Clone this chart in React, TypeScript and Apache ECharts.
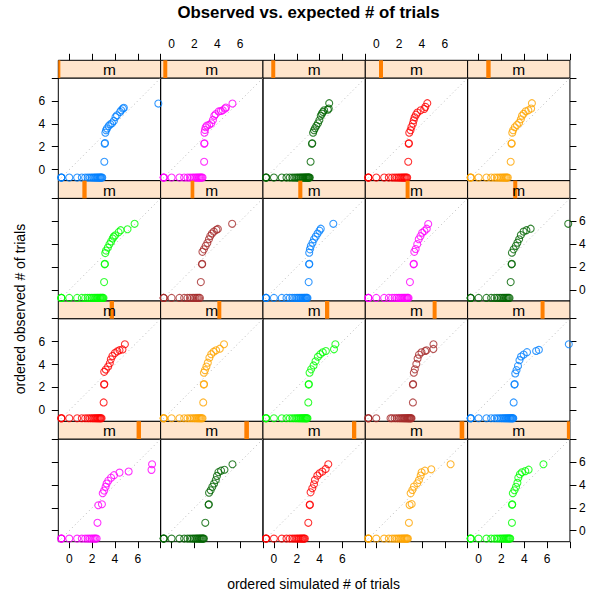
import React, { useEffect, useRef } from 'react';
import * as echarts from 'echarts';

// ---------- data ----------
const TITLE = 'Observed vs. expected # of trials';
const X_TITLE = 'ordered simulated # of trials';
const Y_TITLE = 'ordered observed # of trials';
const STRIP_LABEL = 'm';

const AXIS_MIN = -0.96;
const AXIS_MAX = 8;
const TICK_VALUES = [0, 2, 4, 6, 8];
const TICK_LABELS = [0, 2, 4, 6];
const REF_LINE = [-1, 8.2];
const ZERO_OBS = -0.69;

// shingle level intervals for m (fraction of range), panels in reading order
const STRIP_LO = [0, 0.026, 0.081, 0.134, 0.182, 0.235, 0.293, 0.345, 0.394, 0.446, 0.502, 0.554, 0.606, 0.658, 0.713, 0.765, 0.818, 0.87, 0.922, 0.97];
const STRIP_HI = [0.02, 0.065, 0.12, 0.173, 0.225, 0.277, 0.329, 0.385, 0.433, 0.485, 0.544, 0.593, 0.648, 0.697, 0.752, 0.808, 0.863, 0.912, 0.967, 1.0];

// simulated quantiles paired with observed zeros (y = ZERO_OBS)
const BOTTOM_X = [
  [-0.69, -0.69, -0.69, 0, 0.69, 1.1, 1.39, 1.61, 1.79, 1.95, 2.08, 2.2, 2.3, 2.4, 2.48, 2.56, 2.64, 2.71, 2.77, 2.83, 2.89],
  [-0.69, -0.69, -0.69, 0, 0.69, 1.1, 1.39, 1.61, 1.79, 1.95, 2.08, 2.2, 2.3, 2.4, 2.48, 2.56, 2.64, 2.71],
  [-0.69, -0.69, -0.69, 0, 0.69, 1.1, 1.39, 1.61, 1.79, 1.95, 2.08, 2.2, 2.3, 2.4, 2.48, 2.56, 2.64, 2.71, 2.77, 2.83, 2.89, 2.94, 3.0, 3.04, 3.09, 3.14],
  [-0.69, -0.69, -0.69, 0, 0.69, 1.1, 1.39, 1.61, 1.79, 1.95, 2.08, 2.2, 2.3, 2.4, 2.48, 2.56, 2.64, 2.71],
  [-0.69, -0.69, -0.69, 0, 0.69, 1.1, 1.39, 1.61, 1.79, 1.95, 2.08, 2.2, 2.3, 2.4, 2.48, 2.56],
  [-0.69, -0.69, -0.69, 0, 0.69, 1.1, 1.39, 1.61, 1.79, 1.95, 2.08, 2.2, 2.3, 2.4, 2.48, 2.56, 2.64, 2.71, 2.77, 2.83, 2.89, 2.94, 3.0],
  [-0.69, -0.69, -0.69, 0, 0.69, 1.1, 1.39, 1.61, 1.79, 1.95, 2.08, 2.2, 2.3, 2.4, 2.48],
  [-0.69, -0.69, -0.69, 0, 0.69, 1.1, 1.39, 1.61, 1.79, 1.95, 2.08, 2.2, 2.3, 2.4, 2.48, 2.56, 2.64, 2.71, 2.77, 2.83, 2.89, 2.94],
  [-0.69, -0.69, -0.69, 0, 0.69, 1.1, 1.39, 1.61, 1.79, 1.95, 2.08, 2.2, 2.3, 2.4, 2.48, 2.56, 2.64, 2.71, 2.77, 2.83],
  [-0.69, -0.69, -0.69, 0, 0.69, 1.1, 1.39, 1.61, 1.79, 1.95, 2.08, 2.2, 2.3, 2.4, 2.48, 2.56, 2.64, 2.71],
  [-0.69, -0.69, -0.69, 0, 0.69, 1.1, 1.39, 1.61, 1.79, 1.95, 2.08, 2.2, 2.3, 2.4, 2.48, 2.56, 2.64, 2.71, 2.77, 2.83],
  [-0.69, -0.69, -0.69, 0, 0.69, 1.1, 1.39, 1.61, 1.79, 1.95, 2.08, 2.2, 2.3, 2.4, 2.48, 2.56, 2.64, 2.71],
  [-0.69, -0.69, -0.69, 0, 0.69, 1.1, 1.39, 1.61, 1.79, 1.95, 2.08, 2.2, 2.3, 2.4, 2.48, 2.56, 2.64, 2.71, 2.77, 2.83, 2.89, 2.94],
  [-0.69, -0.69, -0.69, 0, 1.25, 1.39, 1.61, 1.79, 1.95, 2.08, 2.2, 2.3, 2.4, 2.48, 2.56, 2.64, 2.71, 2.77, 2.83, 2.89, 2.94, 3.0, 3.04, 3.09],
  [-0.69, -0.69, -0.69, 0, 0.69, 1.1, 1.39, 1.61, 1.79, 1.95, 2.08, 2.2, 2.3, 2.4, 2.48, 2.56, 2.64, 2.71, 2.77, 2.83, 2.89, 2.94, 3.0, 3.04],
  [-0.69, -0.69, -0.69, 0, 0.69, 1.1, 1.39, 1.61, 1.79, 1.95, 2.08, 2.2, 2.3, 2.4],
  [-0.69, -0.69, -0.69, 0, 0.69, 1.1, 1.39, 1.61, 1.79, 1.95, 2.08, 2.2, 2.3, 2.4, 2.48, 2.56, 2.64, 2.71, 2.77, 2.83],
  [-0.69, -0.69, -0.69, 0, 0.69, 1.1, 1.39, 1.61, 1.79, 1.95, 2.08, 2.2, 2.3, 2.4, 2.48, 2.56, 2.64, 2.71],
  [-0.69, -0.69, -0.69, 0, 0.69, 1.1, 1.39, 1.61, 1.79, 1.95, 2.08, 2.2, 2.3, 2.4, 2.48, 2.56, 2.64, 2.71, 2.77],
  [-0.69, -0.69, -0.69, 0, 0.69, 1.1, 1.39, 1.61, 1.79, 1.95, 2.08, 2.2, 2.3, 2.4, 2.48, 2.56, 2.64, 2.71, 2.77],
];

// remaining (simulated, observed) quantile pairs
const UPPER_POINTS = [
  [[3.07, 0.69], [3.1, 2.27], [3.13, 2.32], [3.16, 3.23], [3.22, 3.44], [3.3, 3.6], [3.45, 3.8], [3.6, 3.96], [3.75, 4.05], [3.9, 4.25], [4.05, 4.6], [4.18, 4.75], [4.45, 5.04], [4.55, 5.18], [4.7, 5.33], [4.78, 5.4], [7.8, 5.77]],
  [[2.85, 0.69], [2.86, 2.27], [2.88, 2.3], [2.88, 3.23], [2.92, 3.47], [2.98, 3.7], [3.1, 3.85], [3.3, 3.92], [3.48, 4.05], [3.62, 4.34], [3.74, 4.7], [3.85, 4.84], [4.12, 5.08], [4.32, 5.12], [4.48, 5.18], [4.68, 5.33], [4.76, 5.42], [5.33, 5.77]],
  [[3.21, 0.69], [3.33, 2.27], [3.36, 2.3], [3.43, 3.23], [3.51, 3.44], [3.6, 3.62], [3.72, 3.83], [3.86, 4.05], [3.98, 4.31], [4.1, 4.7], [4.2, 4.89], [4.3, 5.04], [4.4, 5.18], [4.72, 5.24], [4.8, 5.33], [4.84, 5.8]],
  [[2.8, 0.69], [2.84, 2.27], [2.86, 2.3], [2.89, 3.23], [3.0, 3.44], [3.08, 3.73], [3.21, 4.02], [3.28, 4.31], [3.36, 4.57], [3.48, 4.8], [3.6, 4.98], [3.89, 5.18], [4.2, 5.3], [4.3, 5.48], [4.47, 5.8]],
  [[2.81, 0.69], [2.88, 2.27], [2.9, 2.3], [2.95, 3.23], [3.02, 3.44], [3.17, 3.7], [3.36, 3.9], [3.55, 4.1], [3.7, 4.4], [3.8, 4.7], [3.94, 4.87], [4.13, 5.1], [4.36, 5.18], [4.6, 5.33], [4.67, 5.8]],
  [[3.05, 0.69], [3.1, 2.24], [3.12, 2.28], [3.15, 3.22], [3.22, 3.44], [3.38, 3.7], [3.52, 4.0], [3.66, 4.24], [3.8, 4.5], [3.9, 4.66], [4.03, 4.77], [4.32, 5.05], [4.5, 5.22], [5.1, 5.3], [5.72, 5.78]],
  [[2.56, 0.69], [2.66, 2.24], [2.68, 2.28], [2.7, 3.33], [2.83, 3.55], [2.98, 3.85], [3.13, 4.1], [3.27, 4.43], [3.39, 4.72], [3.53, 4.93], [3.7, 5.1], [3.93, 5.25], [4.05, 5.33], [5.3, 5.78]],
  [[3.04, 0.69], [3.08, 2.24], [3.1, 2.28], [3.09, 3.26], [3.15, 3.55], [3.23, 3.83], [3.38, 4.13], [3.51, 4.43], [3.66, 4.66], [3.82, 4.93], [3.99, 5.18], [4.1, 5.35], [5.2, 5.78]],
  [[2.95, 0.69], [3.27, 2.24], [3.29, 2.28], [3.33, 3.33], [3.45, 3.58], [3.59, 4.0], [3.72, 4.43], [3.87, 4.7], [4.02, 5.0], [4.22, 5.15], [4.42, 5.35], [4.55, 5.76]],
  [[2.81, 0.69], [2.89, 2.24], [2.91, 2.28], [2.92, 3.26], [3.07, 3.55], [3.26, 3.85], [3.4, 4.13], [3.55, 4.43], [3.7, 4.8], [3.94, 5.1], [4.19, 5.22], [4.56, 5.35], [7.85, 5.78]],
  [[3.01, 0.69], [3.05, 2.25], [3.07, 2.29], [3.06, 3.36], [3.2, 3.56], [3.4, 3.83], [3.55, 4.12], [3.64, 4.45], [3.78, 4.75], [4.0, 5.0], [4.21, 5.15], [4.4, 5.25], [4.66, 5.32], [4.87, 5.77]],
  [[2.77, 0.69], [2.82, 2.25], [2.84, 2.29], [2.83, 3.29], [2.92, 3.51], [3.05, 3.83], [3.17, 4.16], [3.31, 4.6], [3.47, 4.9], [3.68, 5.12], [3.9, 5.24], [4.22, 5.38], [4.59, 5.77]],
  [[3.01, 0.69], [3.04, 2.25], [3.06, 2.29], [3.12, 3.29], [3.26, 3.58], [3.47, 3.92], [3.64, 4.28], [3.85, 4.68], [4.06, 4.9], [4.28, 5.07], [4.55, 5.18], [5.26, 5.33], [5.38, 5.77]],
  [[3.21, 0.69], [3.21, 2.25], [3.23, 2.29], [3.29, 3.29], [3.38, 3.58], [3.51, 4.05], [3.62, 4.53], [3.74, 4.86], [3.96, 5.07], [4.28, 5.18], [4.4, 5.24], [5.0, 5.36], [5.01, 5.77]],
  [[3.07, 0.69], [3.14, 2.25], [3.16, 2.29], [3.21, 3.22], [3.32, 3.51], [3.45, 3.88], [3.58, 4.38], [3.72, 4.7], [3.95, 4.87], [4.24, 5.08], [5.04, 5.18], [5.28, 5.28], [7.9, 5.77]],
  [[2.47, 0.69], [2.54, 2.22], [2.86, 2.31], [2.93, 3.27], [3.05, 3.5], [3.18, 3.83], [3.27, 4.12], [3.42, 4.37], [3.66, 4.63], [3.92, 4.85], [4.4, 5.07], [5.2, 5.17], [7.2, 5.31], [7.25, 5.8]],
  [[2.95, 0.69], [3.24, 2.27], [3.26, 2.3], [3.28, 3.32], [3.42, 3.53], [3.57, 3.83], [3.72, 4.12], [3.87, 4.42], [3.97, 4.78], [4.1, 5.11], [4.33, 5.24], [4.63, 5.32], [5.33, 5.8]],
  [[3.01, 0.69], [3.13, 2.24], [3.15, 2.28], [3.21, 3.35], [3.36, 3.7], [3.51, 4.05], [3.59, 4.43], [3.8, 4.81], [4.0, 5.01], [4.24, 5.16], [4.53, 5.39], [4.76, 5.8]],
  [[2.86, 0.69], [2.92, 2.24], [3.1, 2.33], [3.01, 3.26], [3.16, 3.55], [3.3, 3.85], [3.59, 4.14], [3.74, 4.43], [3.89, 4.81], [3.97, 5.1], [4.26, 5.24], [4.82, 5.36], [6.51, 5.8]],
  [[2.92, 0.69], [2.93, 2.27], [2.95, 2.3], [3.0, 3.27], [3.14, 3.53], [3.28, 3.83], [3.4, 4.18], [3.48, 4.63], [3.62, 4.92], [3.8, 5.1], [4.09, 5.2], [4.38, 5.33], [5.68, 5.8]],
];

// ---------- style / layout ----------
const PANEL_COLORS = ['#0080ff', '#ff00ff', '#006400', '#ff0000', '#ffa500', '#00ff00', '#a52a2a'];
const FONT = '"Liberation Sans", Arial, Helvetica, sans-serif';
const NCOL = 5;
const NROW = 4;
const LEFT0 = 58.3;
const COL_W = 102.33;
const TOP0 = 60.3;
const ROW_H = 120.35;
const STRIP_H = 17.7;
const PANEL_H = ROW_H - STRIP_H;
const TICK_LEN = 6.5;
const LABEL_SIZE = 12;

function buildOption() {
  const grid: any[] = [];
  const xAxis: any[] = [];
  const yAxis: any[] = [];
  const series: any[] = [];
  const n = NCOL * NROW;

  const tickStyle = { lineStyle: { color: '#000', width: 1 } };
  const labelBase = { fontSize: LABEL_SIZE, color: '#000', fontFamily: FONT };
  const noLine = { show: false, onZero: false };
  const hiddenVal = (gridIndex: number) => ({
    type: 'value', gridIndex, min: AXIS_MIN, max: AXIS_MAX, show: false,
    axisLine: noLine, splitLine: { show: false },
  });

  // panel grids 0..19
  for (let i = 0; i < n; i++) {
    const r = Math.floor(i / NCOL);
    const c = i % NCOL;
    grid.push({
      left: LEFT0 + c * COL_W, top: TOP0 + r * ROW_H + STRIP_H, width: COL_W, height: PANEL_H,
      show: true, borderColor: '#000', borderWidth: 1, backgroundColor: 'transparent',
    });
  }
  // strip grids 20..39
  for (let i = 0; i < n; i++) {
    const r = Math.floor(i / NCOL);
    const c = i % NCOL;
    grid.push({
      left: LEFT0 + c * COL_W, top: TOP0 + r * ROW_H, width: COL_W, height: STRIP_H,
      show: true, borderColor: '#000', borderWidth: 1, backgroundColor: '#ffe5cc',
    });
  }

  // x axes 0..19 (bottom), 20..39 strip, 40..44 top
  for (let i = 0; i < n; i++) {
    const r = Math.floor(i / NCOL);
    const c = i % NCOL;
    if (r === NROW - 1) {
      xAxis.push({
        type: 'value', gridIndex: i, min: AXIS_MIN, max: AXIS_MAX, position: 'bottom',
        axisLine: noLine,
        axisTick: { show: true, customValues: TICK_VALUES, length: TICK_LEN, inside: false, ...tickStyle },
        axisLabel: { show: c % 2 === 0, customValues: TICK_LABELS, margin: 11, ...labelBase },
        splitLine: { show: false },
      });
    } else {
      xAxis.push(hiddenVal(i));
    }
  }
  for (let i = 0; i < n; i++) {
    xAxis.push({ type: 'value', gridIndex: n + i, min: 0, max: 1, show: false, axisLine: noLine, splitLine: { show: false } });
  }
  for (let c = 0; c < NCOL; c++) {
    xAxis.push({
      type: 'value', gridIndex: c, min: AXIS_MIN, max: AXIS_MAX, position: 'top', offset: STRIP_H,
      axisLine: noLine,
      axisTick: { show: c % 2 === 0, customValues: TICK_VALUES, length: TICK_LEN, inside: false, ...tickStyle },
      axisLabel: { show: c % 2 === 1, customValues: TICK_LABELS, margin: 10, ...labelBase },
      splitLine: { show: false },
    });
  }

  // y axes 0..19 (left), 20..39 strip, 40..43 right
  for (let i = 0; i < n; i++) {
    const r = Math.floor(i / NCOL);
    const c = i % NCOL;
    if (c === 0) {
      yAxis.push({
        type: 'value', gridIndex: i, min: AXIS_MIN, max: AXIS_MAX, position: 'left',
        axisLine: noLine,
        axisTick: { show: true, customValues: TICK_VALUES, length: TICK_LEN, inside: false, ...tickStyle },
        axisLabel: { show: r % 2 === 0, customValues: TICK_LABELS, margin: 13, ...labelBase },
        splitLine: { show: false },
      });
    } else {
      yAxis.push(hiddenVal(i));
    }
  }
  for (let i = 0; i < n; i++) {
    yAxis.push({ type: 'value', gridIndex: n + i, min: 0, max: 1, show: false, axisLine: noLine, splitLine: { show: false } });
  }
  for (let r = 0; r < NROW; r++) {
    yAxis.push({
      type: 'value', gridIndex: r * NCOL + NCOL - 1, min: AXIS_MIN, max: AXIS_MAX, position: 'right',
      axisLine: noLine,
      axisTick: { show: true, customValues: TICK_VALUES, length: TICK_LEN, inside: false, ...tickStyle },
      axisLabel: { show: r % 2 === 1, customValues: TICK_LABELS, margin: 9, ...labelBase },
      splitLine: { show: false },
    });
  }

  for (let i = 0; i < n; i++) {
    const col = PANEL_COLORS[i % PANEL_COLORS.length];
    series.push({
      type: 'line', xAxisIndex: i, yAxisIndex: i, silent: true, symbol: 'none', clip: true,
      data: [[REF_LINE[0], REF_LINE[0]], [REF_LINE[1], REF_LINE[1]]],
      lineStyle: { color: '#b8b8b8', width: 1, type: [1, 3] },
      z: 1,
    });
    const pts = BOTTOM_X[i].map((x) => [x, ZERO_OBS]).concat(UPPER_POINTS[i]);
    series.push({
      type: 'scatter', xAxisIndex: i, yAxisIndex: i, silent: true, clip: true,
      symbol: 'circle', symbolSize: 7,
      itemStyle: { color: 'rgba(0,0,0,0)', borderColor: col, borderWidth: 1.1 },
      data: pts,
      z: 2,
    });
    series.push({
      type: 'custom', xAxisIndex: n + i, yAxisIndex: n + i, silent: true,
      data: [[STRIP_LO[i], STRIP_HI[i]]],
      renderItem: (params: any, api: any) => {
        const lo = api.value(0);
        const hi = api.value(1);
        const p0 = api.coord([lo, 1]);
        const p1 = api.coord([hi, 0]);
        const mid = api.coord([0.5, 0.5]);
        return {
          type: 'group',
          children: [
            {
              type: 'rect',
              shape: { x: p0[0], y: p0[1], width: Math.max(p1[0] - p0[0], 1), height: p1[1] - p0[1] },
              style: { fill: '#ff7f00' },
            },
            {
              type: 'text', x: mid[0], y: mid[1] + 0.5,
              style: { text: STRIP_LABEL, fill: '#000', font: '15.5px ' + FONT, align: 'center', verticalAlign: 'middle' },
            },
          ],
        };
      },
      z: 3,
    });
  }

  return {
    animation: false,
    backgroundColor: '#ffffff',
    grid, xAxis, yAxis, series,
    graphic: [
      {
        type: 'text', x: 308.5, y: 12,
        style: { text: TITLE, font: 'bold 16.8px ' + FONT, fill: '#000', align: 'center', verticalAlign: 'middle' },
      },
      {
        type: 'text', x: 313.5, y: 583.5,
        style: { text: X_TITLE, font: '14px ' + FONT, fill: '#000', align: 'center', verticalAlign: 'middle' },
      },
      {
        type: 'text', x: 20, y: 309, rotation: Math.PI / 2,
        style: { text: Y_TITLE, font: '14px ' + FONT, fill: '#000', align: 'center', verticalAlign: 'middle' },
      },
    ],
  };
}

export default function App() {
  const ref = useRef<HTMLDivElement>(null);
  useEffect(() => {
    if (!ref.current) return;
    const chart = echarts.init(ref.current, null, { renderer: 'svg' });
    chart.setOption(buildOption() as any);
    return () => chart.dispose();
  }, []);
  return <div ref={ref} style={{ position: 'absolute', left: 0, top: 0, width: 591, height: 598 }} />;
}
